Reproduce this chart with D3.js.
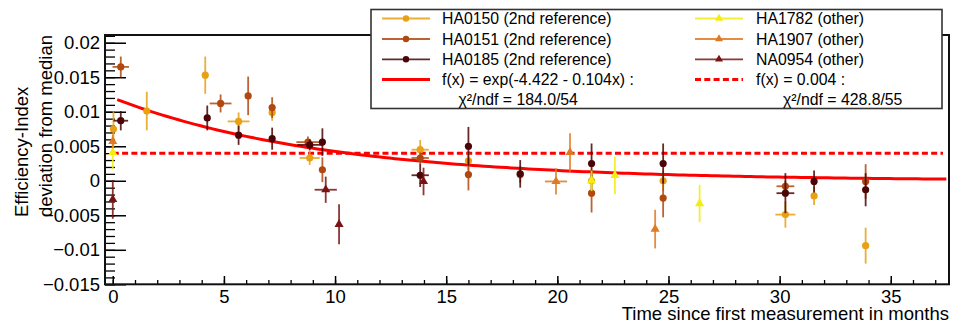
<!DOCTYPE html>
<html>
<head>
<meta charset="utf-8">
<script src="https://cdn.jsdelivr.net/npm/d3@7"></script>
<style>
  body { margin: 0; background: #fff; }
  svg { display: block; }
  text { font-family: "Liberation Sans", Arial, Helvetica, sans-serif; fill: #000; }
</style>
</head>
<body>
<svg id="chart" width="953" height="325"></svg>
<script>
// Measurements per detector: t = months, v = deviation, et/ev = errors
const ha0150 = [
  {t: 0.03, v: 0.0075, et: 0, ev: 0.0026},
  {t: 1.53, v: 0.0101, et: 0, ev: 0.0028},
  {t: 4.16, v: 0.0153, et: 0, ev: 0.0027},
  {t: 5.66, v: 0.0086, et: 0.49, ev: 0.0013},
  {t: 7.17, v: 0.0099, et: 0, ev: 0.0012},
  {t: 8.86, v: 0.0033, et: 0.45, ev: 0.0010},
  {t: 13.83, v: 0.0045, et: 0.39, ev: 0.0014},
  {t: 16.0, v: 0.0029, et: 0, ev: 0.0014},
  {t: 21.54, v: 0.0000, et: 0, ev: 0.0015},
  {t: 24.76, v: 0.0000, et: 0, ev: 0.0015},
  {t: 30.26, v: -0.0049, et: 0.45, ev: 0.0019},
  {t: 31.55, v: -0.0022, et: 0, ev: 0.0013},
  {t: 33.87, v: -0.0094, et: 0, ev: 0.0026}
];
const ha0151 = [
  {t: 0.36, v: 0.0165, et: 0.37, ev: 0.0015},
  {t: 4.85, v: 0.0112, et: 0.49, ev: 0.0013},
  {t: 6.09, v: 0.0123, et: 0, ev: 0.0028},
  {t: 7.17, v: 0.0106, et: 0, ev: 0.0015},
  {t: 8.78, v: 0.0056, et: 0.52, ev: 0.0008},
  {t: 9.43, v: 0.0016, et: 0, ev: 0.0018},
  {t: 13.83, v: 0.0033, et: 0.39, ev: 0.0008},
  {t: 16.0, v: 0.0009, et: 0, ev: 0.0023},
  {t: 18.33, v: 0.0009, et: 0, ev: 0.0012},
  {t: 21.54, v: -0.0018, et: 0, ev: 0.0028},
  {t: 24.76, v: -0.0025, et: 0, ev: 0.0028},
  {t: 30.26, v: -0.0008, et: 0.40, ev: 0.0008},
  {t: 33.87, v: -0.0001, et: 0, ev: 0.0025}
];
const ha0185 = [
  {t: 0.36, v: 0.0087, et: 0.33, ev: 0.0014},
  {t: 4.25, v: 0.0091, et: 0, ev: 0.0018},
  {t: 5.66, v: 0.0066, et: 0, ev: 0.0014},
  {t: 7.17, v: 0.0061, et: 0, ev: 0.0016},
  {t: 8.86, v: 0.0052, et: 0.56, ev: 0.0008},
  {t: 9.43, v: 0.0056, et: 0, ev: 0.0020},
  {t: 13.83, v: 0.0008, et: 0.39, ev: 0.0017},
  {t: 16.0, v: 0.0050, et: 0, ev: 0.0028},
  {t: 18.33, v: 0.0010, et: 0, ev: 0.0020},
  {t: 21.54, v: 0.0025, et: 0, ev: 0.0029},
  {t: 24.76, v: 0.0025, et: 0, ev: 0.0029},
  {t: 30.26, v: -0.0018, et: 0.40, ev: 0.0029},
  {t: 31.55, v: -0.0001, et: 0, ev: 0.0016},
  {t: 33.87, v: -0.0013, et: 0, ev: 0.0024}
];
const ha1782 = [
  {t: 0.0, v: 0.0041, et: 0, ev: 0.0024},
  {t: 21.54, v: 0.0000, et: 0, ev: 0.0015},
  {t: 22.59, v: 0.0008, et: 0, ev: 0.0027},
  {t: 26.4, v: -0.0033, et: 0, ev: 0.0027}
];
const ha1907 = [
  {t: 0.0, v: 0.0057, et: 0, ev: 0.0010},
  {t: 19.94, v: -0.0001, et: 0.5, ev: 0.0019},
  {t: 20.57, v: 0.0041, et: 0, ev: 0.0028},
  {t: 24.4, v: -0.0070, et: 0, ev: 0.0028}
];
const na0954 = [
  {t: 0.0, v: -0.0027, et: 0, ev: 0.0028},
  {t: 9.58, v: -0.0013, et: 0.5, ev: 0.0019},
  {t: 10.18, v: -0.0063, et: 0, ev: 0.0029},
  {t: 13.98, v: -0.0001, et: 0, ev: 0.0020}
];

const seriesNames = ["HA0150 (2nd reference)", "HA0151 (2nd reference)", "HA0185 (2nd reference)",
                     "HA1782 (other)", "HA1907 (other)", "NA0954 (other)"];
const seriesData = [ha0150, ha0151, ha0185, ha1782, ha1907, na0954];
const seriesColors = ["#e8a014", "#b0480f", "#4a0606", "#f2ee10", "#e07a22", "#7a1414"];
const seriesMarkers = ["circle", "circle", "circle", "triangle", "triangle", "triangle"];

// Fit results
const expFit = {a: -4.422, b: -0.104, label: "f(x) = exp(-4.422 - 0.104x) :", chi: "χ²/ndf = 184.0/54"};
const constFit = {c: 0.004, label: "f(x) = 0.004 :", chi: "χ²/ndf = 428.8/55"};

const xTicks = [0, 5, 10, 15, 20, 25, 30, 35];
const yTicks = [-0.015, -0.01, -0.005, 0, 0.005, 0.01, 0.015, 0.02];
const yTickLabels = ["\u22120.015", "\u22120.01", "\u22120.005", "0", "0.005", "0.01", "0.015", "0.02"];

const svg = d3.select("#chart");
const plot = {left: 105, right: 949, top: 35, bottom: 284.3};

const x = d3.scaleLinear().domain([-0.35, 37.62]).range([plot.left, plot.right]);
const y = d3.scaleLinear().domain([-0.015, 0.02112]).range([plot.bottom, plot.top]);

const fontSize = 18.5;

// Minor ticks
svg.append("g")
  .attr("transform", `translate(${plot.left},0)`)
  .call(d3.axisLeft(y).tickValues(d3.range(-15, 22).map(d => d / 1000)).tickSize(-10).tickFormat(""))
  .call(g => g.select(".domain").remove())
  .call(g => g.selectAll("line").attr("stroke", "#000").attr("stroke-width", 1.3));
svg.append("g")
  .attr("transform", `translate(0,${plot.bottom})`)
  .call(d3.axisBottom(x).tickValues(d3.range(0, 38)).tickSize(-4.3).tickFormat(""))
  .call(g => g.select(".domain").remove())
  .call(g => g.selectAll("line").attr("stroke", "#000").attr("stroke-width", 1.3));

// Major ticks with labels
svg.append("g")
  .attr("transform", `translate(${plot.left},0)`)
  .call(d3.axisLeft(y).tickValues(yTicks).tickSize(-21).tickPadding(5)
        .tickFormat((d, i) => yTickLabels[i]))
  .call(g => g.select(".domain").remove())
  .call(g => g.selectAll("line").attr("stroke", "#000").attr("stroke-width", 1.5))
  .call(g => g.selectAll("text").attr("font-size", fontSize).attr("font-family", null).attr("fill", "#000"));
svg.append("g")
  .attr("transform", `translate(0,${plot.bottom})`)
  .call(d3.axisBottom(x).tickValues(xTicks).tickSize(-8.3).tickPadding(5.5).tickFormat(d3.format("d")))
  .call(g => g.select(".domain").remove())
  .call(g => g.selectAll("line").attr("stroke", "#000").attr("stroke-width", 1.5))
  .call(g => g.selectAll("text").attr("font-size", fontSize).attr("font-family", null).attr("fill", "#000"));

// Frame
svg.append("rect")
  .attr("x", plot.left).attr("y", plot.top)
  .attr("width", plot.right - plot.left).attr("height", plot.bottom - plot.top)
  .attr("fill", "none").attr("stroke", "#111").attr("stroke-width", 2);

// Axis titles
svg.append("text")
  .attr("x", plot.right).attr("y", 320)
  .attr("text-anchor", "end").attr("font-size", fontSize)
  .text("Time since first measurement in months");
const yTitle = svg.append("g").attr("transform", "translate(0,217) rotate(-90)");
yTitle.append("text").attr("x", 0).attr("y", 28).attr("font-size", fontSize).text("Efficiency-Index");
yTitle.append("text").attr("x", 0).attr("y", 52).attr("font-size", fontSize).text("deviation from median");

// Fit lines
const line = d3.line().x(d => x(d[0])).y(d => y(d[1]));
svg.append("path")
  .datum([[0, constFit.c], [37.35, constFit.c]])
  .attr("d", line).attr("fill", "none")
  .attr("stroke", "#ff0000").attr("stroke-width", 3).attr("stroke-dasharray", "6,3.3");
const curvePts = d3.range(0.2, 37.5, 0.25).concat([37.5]).map(t => [t, Math.exp(expFit.a + expFit.b * t)]);
svg.append("path")
  .datum(curvePts)
  .attr("d", line).attr("fill", "none")
  .attr("stroke", "#ff0000").attr("stroke-width", 3);

// Data points with error bars
const triangle = d3.symbol().type(d3.symbolTriangle).size(36);
seriesData.forEach((data, i) => {
  const g = svg.append("g");
  const col = seriesColors[i];
  data.forEach(d => {
    g.append("line")
      .attr("x1", x(d.t)).attr("x2", x(d.t))
      .attr("y1", y(d.v - d.ev)).attr("y2", y(d.v + d.ev))
      .attr("stroke", col).attr("stroke-width", 1.8).attr("opacity", 0.85);
    if (d.et > 0) {
      g.append("line")
        .attr("x1", x(d.t - d.et)).attr("x2", x(d.t + d.et))
        .attr("y1", y(d.v)).attr("y2", y(d.v))
        .attr("stroke", col).attr("stroke-width", 1.8).attr("opacity", 0.85);
    }
  });
  if (seriesMarkers[i] === "circle") {
    g.selectAll("circle").data(data).join("circle")
      .attr("cx", d => x(d.t)).attr("cy", d => y(d.v)).attr("r", 3.6).attr("fill", col);
  } else {
    g.selectAll("path").data(data).join("path")
      .attr("transform", d => `translate(${x(d.t)},${y(d.v)})`)
      .attr("d", triangle).attr("fill", col);
  }
});

// Legend
const legend = svg.append("g");
legend.append("rect")
  .attr("x", 371).attr("y", 9.5).attr("width", 571).attr("height", 99)
  .attr("fill", "#fff").attr("stroke", "#333").attr("stroke-width", 1.6);
const rowY = [18.5, 39, 59.3, 79.5];
const cols = [{x1: 382, x2: 430, tx: 442}, {x1: 695, x2: 743, tx: 756}];
const legFont = 15.8;
seriesNames.forEach((name, i) => {
  const c = cols[Math.floor(i / 3)];
  const ry = rowY[i % 3];
  const col = seriesColors[i];
  legend.append("line").attr("x1", c.x1).attr("x2", c.x2).attr("y1", ry).attr("y2", ry)
    .attr("stroke", col).attr("stroke-width", 1.8).attr("opacity", 0.85);
  const mx = (c.x1 + c.x2) / 2;
  if (seriesMarkers[i] === "circle") {
    legend.append("circle").attr("cx", mx).attr("cy", ry).attr("r", 3.2).attr("fill", col);
  } else {
    legend.append("path").attr("transform", `translate(${mx},${ry})`)
      .attr("d", d3.symbol().type(d3.symbolTriangle).size(28)).attr("fill", col);
  }
  legend.append("text").attr("x", c.tx).attr("y", ry).attr("dy", "0.35em")
    .attr("font-size", legFont).text(name);
});
// Fit entries
legend.append("line").attr("x1", cols[0].x1).attr("x2", cols[0].x2).attr("y1", rowY[3]).attr("y2", rowY[3])
  .attr("stroke", "#ff0000").attr("stroke-width", 3);
legend.append("text").attr("x", cols[0].tx).attr("y", rowY[3]).attr("dy", "0.35em")
  .attr("font-size", legFont).text(expFit.label);
legend.append("text").attr("x", 458.5).attr("y", 99).attr("dy", "0.35em")
  .attr("font-size", legFont).text(expFit.chi);
legend.append("line").attr("x1", cols[1].x1).attr("x2", cols[1].x2).attr("y1", rowY[3]).attr("y2", rowY[3])
  .attr("stroke", "#ff0000").attr("stroke-width", 3).attr("stroke-dasharray", "6,3.3");
legend.append("text").attr("x", cols[1].tx).attr("y", rowY[3]).attr("dy", "0.35em")
  .attr("font-size", legFont).text(constFit.label);
legend.append("text").attr("x", 783).attr("y", 99).attr("dy", "0.35em")
  .attr("font-size", legFont).text(constFit.chi);
</script>
</body>
</html>
